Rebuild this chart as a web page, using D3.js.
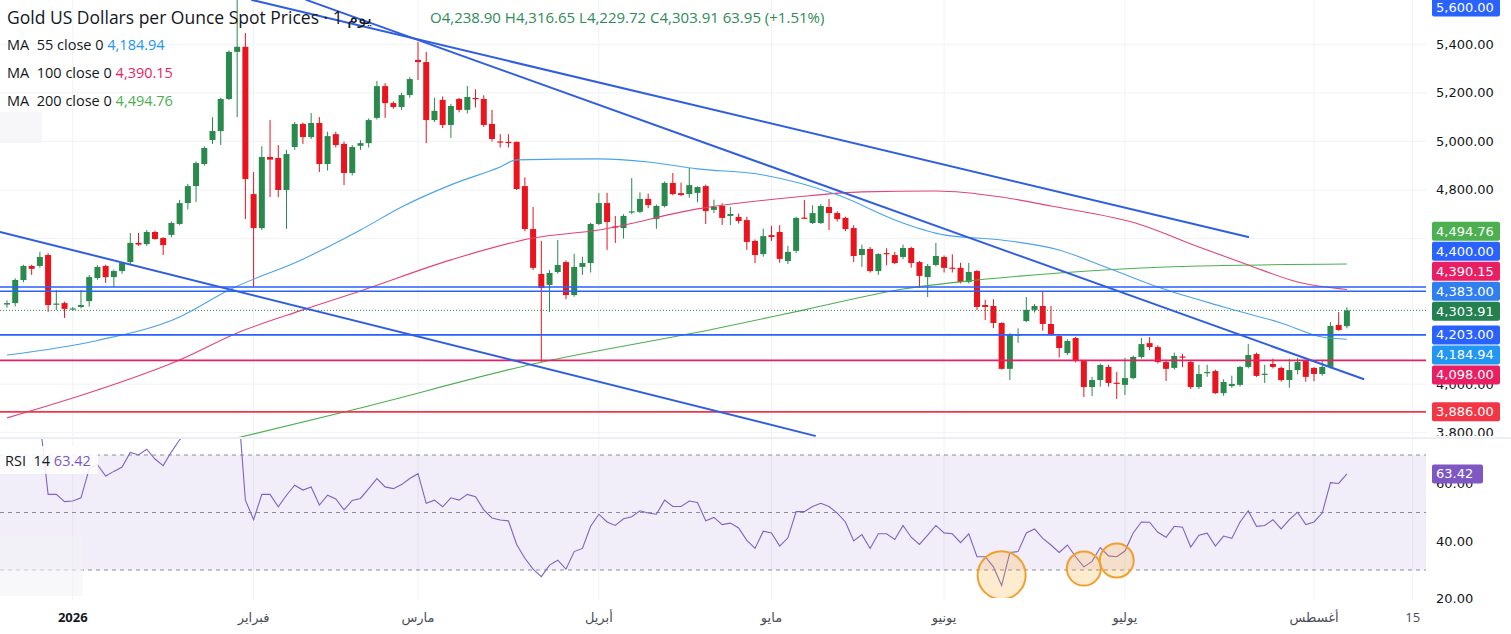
<!DOCTYPE html>
<html>
<head>
<meta charset="utf-8">
<script src="https://cdn.jsdelivr.net/npm/d3@7"></script>
<style>
  body { margin: 0; background: #fff; }
  svg { display: block; font-family: "Open Sans", "DejaVu Sans", sans-serif; }
  .axisText { font-family: "DejaVu Sans", sans-serif; }
</style>
</head>
<body>
<svg id="chart" width="1511" height="634"></svg>
<script>
// ---- data (one entry per candle) ----
const opens = [
  4328,4334,4429,4487,4487,4532,4328,4334,4310,4318,
  4342,4437,4487,4441,4466,4503,4582,4577,4627,4602,
  4615,4660,4746,4816,4907,5006,5043,5175,5369,5390,
  4783,4643,4936,4932,4800,4977,5072,5018,5076,4907,
  5030,4990,4870,4982,4993,5097,5228,5158,5142,5191,
  5336,5327,5088,5171,5068,5175,5130,5179,5175,5072,
  5000,4998,4998,4816,4639,4454,4409,4462,4503,4367,
  4483,4499,4660,4746,4650,4643,4708,4710,4763,4680,
  4734,4829,4787,4783,4788,4816,4718,4734,4693,4689,
  4676,4590,4536,4614,4627,4507,4549,4686,4664,4664,
  4730,4705,4685,4643,4532,4557,4466,4540,4532,4524,
  4561,4503,4441,4491,4524,4480,4479,4421,4466,4326,
  4322,4252,4063,4203,4260,4306,4322,4248,4198,4128,
  4190,4095,3988,4017,4071,4006,3997,4025,4112,4169,
  4153,4091,4067,4114,4091,3988,4046,4054,3963,3992,
  3997,4071,4124,4040,4083,4067,4017,4058,4095,4067,
  4042,4071,4244,4238.90];
const highs = [
  4345,4436,4492,4492,4545,4540,4388,4340,4318,4388,
  4450,4490,4492,4472,4503,4623,4623,4635,4632,4606,
  4670,4759,4825,4918,4980,5100,5180,5375,5595,5447,
  4874,4980,5088,4985,4965,5080,5078,5117,5100,5040,
  5040,5000,4985,5005,5095,5249,5240,5165,5200,5265,
  5410,5369,5180,5185,5155,5180,5228,5215,5190,5130,
  5030,5030,5000,4852,4730,4590,4470,4594,4510,4537,
  4525,4665,4788,4788,4693,4700,4849,4790,4785,4740,
  4835,4870,4830,4891,4815,4822,4760,4745,4730,4703,
  4690,4596,4641,4652,4655,4570,4690,4759,4737,4742,
  4763,4712,4690,4655,4575,4565,4540,4560,4545,4575,
  4566,4508,4495,4582,4530,4535,4500,4500,4470,4347,
  4350,4255,4210,4230,4359,4330,4380,4322,4205,4185,
  4195,4100,4030,4085,4080,4050,4108,4118,4190,4194,
  4160,4100,4130,4125,4095,4080,4080,4060,4020,4035,
  4075,4165,4130,4080,4105,4072,4105,4108,4100,4070,
  4095,4255,4297,4316.65];
const lows = [
  4315,4320,4420,4450,4480,4298,4305,4273,4302,4312,
  4320,4430,4417,4400,4455,4495,4570,4570,4595,4532,
  4605,4655,4720,4750,4900,4990,4985,5170,5100,4680,
  4400,4635,4771,4770,4640,4965,4990,5010,4874,4880,
  4975,4820,4860,4965,4975,5090,5097,5135,5130,5180,
  5253,4993,5080,5055,5014,5120,5115,5140,5060,5000,
  4975,4975,4800,4630,4470,4091,4297,4455,4350,4360,
  4450,4460,4655,4553,4582,4600,4700,4705,4725,4640,
  4728,4778,4775,4768,4750,4660,4705,4656,4655,4662,
  4553,4499,4525,4590,4500,4495,4540,4680,4660,4660,
  4635,4670,4630,4503,4483,4460,4450,4490,4495,4515,
  4480,4396,4359,4485,4460,4460,4415,4415,4305,4264,
  4231,4060,4017,4170,4255,4295,4220,4200,4110,4120,
  4090,3947,3951,3990,3990,3939,3955,4020,4105,4140,
  4085,4013,4060,4070,3980,3980,4030,3960,3952,3985,
  3990,4065,4030,4005,4065,4010,3985,4040,4010,4012,
  4035,4065,4220,4229.72];
const closes = [
  4334,4429,4487,4475,4524,4326,4332,4310,4312,4326,
  4441,4483,4441,4466,4499,4582,4575,4627,4598,4573,
  4664,4746,4816,4911,4973,5043,5175,5369,5390,4845,
  4643,4936,4925,4800,4948,5072,5018,5076,4907,5022,
  4985,4870,4977,4993,5088,5228,5158,5142,5191,5257,
  5327,5088,5126,5068,5146,5130,5183,5175,5068,5010,
  4996,4996,4804,4639,4479,4396,4458,4491,4367,4483,
  4499,4660,4746,4668,4646,4693,4712,4763,4738,4734,
  4829,4783,4779,4820,4812,4713,4730,4685,4701,4672,
  4586,4532,4610,4606,4516,4545,4685,4684,4705,4734,
  4705,4680,4639,4528,4557,4466,4536,4536,4499,4561,
  4499,4446,4487,4528,4479,4478,4421,4462,4318,4318,
  4252,4063,4203,4205,4306,4322,4248,4203,4149,4178,
  4095,3988,4017,4079,4005,4004,4025,4112,4165,4153,
  4091,4063,4116,4110,3988,4042,4050,3963,4009,4001,
  4071,4120,4034,4043,4071,4017,4058,4091,4030,4042,
  4071,4240,4223,4303.91];

const rsiValues = [
  76.5,80,83,81,82,56.3,56.3,53.8,54,55.1,
  65.2,66.6,62.7,64.3,65.8,70.9,70,72,68.6,66.3,
  71.1,75.3,78,82,84,86,88,92,92,54.3,
  47.5,56.3,56.3,52,56,59.5,57.8,58.9,52.6,56,
  54.7,50.9,54.2,54.9,58.3,61.8,58.9,58.3,59.7,61.8,
  63.5,53.2,54.3,52,55.1,54.3,56.3,55.5,50.9,48.1,
  47.4,47.1,38.9,34.1,30.3,27.7,31.7,33.4,30.3,36.4,
  37.5,45.2,49.4,46.7,45.5,47.8,48.5,50.6,49.8,49.4,
  54.3,52.1,52.1,54,53.5,47.1,48.3,45.8,46.3,44.6,
  40.3,37.5,43.5,42.9,38.3,41.2,50.3,50.3,52.1,53.2,
  52.1,49.8,46.7,40.1,42.3,37.5,42.6,42.6,40.6,45.5,
  41.4,38.9,42.1,45.5,42.9,42.6,39.5,42.6,34.6,34.6,
  31.1,24.6,36.1,36.4,42.9,44.3,41,38.7,36.1,38.7,
  34.6,31.1,33,37.8,34.9,34.6,36.6,42.9,46.7,46.6,
  43.1,41.4,45.2,44.9,38,42.1,42.8,38.3,41.8,41,
  46.7,50.6,45.2,45.5,47.5,44.3,47.5,50.1,45.8,46.7,
  49.8,60.4,60.1,63.42];

// moving averages, sampled at candle indices
const ma55Idx = [0, 11, 21, 27, 36, 43, 48, 54, 60, 62, 72, 78, 84, 92, 101, 109, 114, 121, 128, 133, 140, 148, 155, 160, 163];
const ma55Val = [4120, 4180, 4277, 4388, 4515, 4635, 4730, 4821, 4895, 4924, 4928, 4915, 4887, 4862, 4780, 4664, 4615, 4594, 4553, 4491, 4400, 4318, 4252, 4194, 4184.94];
const ma100Idx = [0, 11, 21, 28, 36, 43, 54, 64, 72, 84, 96, 104, 113, 121, 127, 138, 145, 151, 157, 163];
const ma100Val = [3861, 3976, 4100, 4211, 4306, 4384, 4512, 4602, 4635, 4722, 4771, 4792, 4796, 4771, 4734, 4656, 4565, 4491, 4421, 4390.15];
const ma200Idx = [26, 43, 64, 86, 97, 109, 118, 128, 145, 163];
const ma200Val = [3762, 3902, 4083, 4227, 4306, 4392, 4429, 4458, 4487, 4494.76];

// drawings: trend lines as [candle index, price] end points, horizontal levels
const trendLines = [
  [[-0.85, 4627], [98.3, 3787]],
  [[29.8, 5583], [151, 4606]],
  [[36.4, 5583], [165, 4021]]
];
const levelValues = [4400, 4383, 4203, 4098, 3886];
const levelColors = ["#2962ff", "#2962ff", "#2962ff", "#e91e63", "#f23645"];

// axis
const priceTicks = [3800, 4000, 4200, 4400, 4600, 4800, 5000, 5200, 5400, 5600];
const rsiTicks = [20, 40, 60];
const timeTickIdx = [8, 30, 50, 72, 93, 114, 136, 159, 171];
const timeTickLabels = ["2026", "فبراير", "مارس", "أبريل", "مايو", "يونيو", "يوليو", "أغسطس", "15"];

// price tags on the right scale
const tagValues = [5600, 4494.76, 4400, 4390.15, 4383, 4303.91, 4203, 4184.94, 4098, 3886];
const tagColors = ["#2962ff", "#4caf50", "#2962ff", "#e91e63", "#2f7ff0", "#23804f", "#2962ff", "#2196f3", "#e91e63", "#f23645"];
const tagAnchor = 4383;

// circled RSI lows
const circleIdx = [121, 131, 135];
const circleRsi = [28.2, 30.5, 33.3];
const circleR = [24, 17, 17];

const lastRsi = 63.42;

// ---- layout ----
const W = 1511,
  plotR = 1426,
  paneBot = 437,
  rsiTop = 439,
  rsiBot = 600,
  tagX = 1432,
  tagW = 68,
  tagH = 19,
  upColor = "#2a8a4e",
  downColor = "#e8141e";

const fmt = d3.format(",.2f");

var x = d3.scaleLinear().domain([0, 163]).range([7, 1346.9]);
var y = d3.scaleLinear().domain([3800, 5600]).range([432.7, -4.2]);
var yr = d3.scaleLinear().domain([30, 70]).range([570, 455]);

const svg = d3.select("#chart");

svg.append("rect").attr("width", W).attr("height", 634).attr("fill", "#fff");

const defs = svg.append("defs");
defs.append("clipPath").attr("id", "clipPrice")
  .append("rect").attr("x", 0).attr("y", 0).attr("width", plotR).attr("height", paneBot);
defs.append("clipPath").attr("id", "clipRsi")
  .append("rect").attr("x", 0).attr("y", rsiTop).attr("width", plotR).attr("height", rsiBot - rsiTop - 2);
defs.append("clipPath").attr("id", "clipAxisPrice")
  .append("rect").attr("x", plotR).attr("y", 0).attr("width", W - plotR).attr("height", paneBot - 1);

// GRID
const grid = svg.append("g").attr("id", "grid");
grid.selectAll(".vgrid").data(timeTickIdx).enter()
  .append("line")
  .attr("x1", d => x(d)).attr("x2", d => x(d))
  .attr("y1", 0).attr("y2", rsiBot)
  .attr("stroke", "#f0f2f7").attr("stroke-width", 1);
grid.selectAll(".hgrid").data(priceTicks).enter()
  .append("line")
  .attr("x1", 0).attr("x2", plotR)
  .attr("y1", d => y(d)).attr("y2", d => y(d))
  .attr("stroke", "#f0f2f7").attr("stroke-width", 1);

// PRICE PANE
const price = svg.append("g").attr("clip-path", "url(#clipPrice)");

const candles = opens.map((o, i) => ({ i: i, o: o, h: highs[i], l: lows[i], c: closes[i] }));

const candleG = price.append("g").attr("id", "candles")
  .selectAll("g").data(candles).enter().append("g");

candleG.append("line")
  .attr("x1", d => x(d.i)).attr("x2", d => x(d.i))
  .attr("y1", d => y(d.h)).attr("y2", d => y(d.l))
  .attr("stroke", d => d.c >= d.o ? upColor : downColor)
  .attr("stroke-width", 1);

candleG.append("rect")
  .attr("x", d => x(d.i) - 3)
  .attr("width", 6)
  .attr("y", d => y(Math.max(d.o, d.c)))
  .attr("height", d => Math.max(1.2, Math.abs(y(d.o) - y(d.c))))
  .attr("fill", d => d.c >= d.o ? upColor : downColor);

// moving averages
var maLine = d3.line()
  .x(d => x(d[0]))
  .y(d => y(d[1]))
  .curve(d3.curveMonotoneX);

const maSets = [
  { idx: ma200Idx, val: ma200Val, color: "#4caf50" },
  { idx: ma100Idx, val: ma100Val, color: "#e0447a" },
  { idx: ma55Idx, val: ma55Val, color: "#4aa3e8" }
];
maSets.forEach(function(m) {
  price.append("path")
    .datum(m.idx.map((d, k) => [d, m.val[k]]))
    .attr("d", maLine)
    .attr("fill", "none")
    .attr("stroke", m.color)
    .attr("stroke-width", 1.1);
});

// horizontal levels
price.selectAll(".level").data(levelValues).enter()
  .append("line")
  .attr("x1", 0).attr("x2", plotR)
  .attr("y1", d => y(d)).attr("y2", d => y(d))
  .attr("stroke", (d, k) => levelColors[k])
  .attr("stroke-width", 1.6);

// last price dotted line
price.append("line")
  .attr("x1", 0).attr("x2", plotR)
  .attr("y1", y(closes[closes.length - 1])).attr("y2", y(closes[closes.length - 1]))
  .attr("stroke", upColor)
  .attr("stroke-width", 1)
  .attr("stroke-dasharray", "1,2");

// trend lines
price.selectAll(".trend").data(trendLines).enter()
  .append("line")
  .attr("x1", d => x(d[0][0])).attr("y1", d => y(d[0][1]))
  .attr("x2", d => x(d[1][0])).attr("y2", d => y(d[1][1]))
  .attr("stroke", "#2f5fe0")
  .attr("stroke-width", 2)
  .attr("stroke-linecap", "round");

// separator between panes
svg.append("rect")
  .attr("x", 0).attr("y", paneBot).attr("width", W).attr("height", 2)
  .attr("fill", "#eceef3");

// RSI PANE
const rsiG = svg.append("g").attr("clip-path", "url(#clipRsi)");

rsiG.append("rect")
  .attr("x", 0).attr("width", plotR)
  .attr("y", yr(70)).attr("height", yr(30) - yr(70))
  .attr("fill", "#7e57c2").attr("fill-opacity", 0.1);

rsiG.selectAll(".rsiLevel").data([70, 50, 30]).enter()
  .append("line")
  .attr("x1", 0).attr("x2", plotR)
  .attr("y1", d => yr(d)).attr("y2", d => yr(d))
  .attr("stroke", "#8a8d99")
  .attr("stroke-width", 1)
  .attr("stroke-dasharray", "4,4");

// faint tooltip box left over in the pane
rsiG.append("rect")
  .attr("x", 0).attr("y", 536).attr("width", 83).attr("height", 60)
  .attr("fill", "#f3f3f6").attr("fill-opacity", 0.6);

rsiG.append("path")
  .datum(rsiValues)
  .attr("d", d3.line().x((d, i) => x(i)).y(d => yr(d)))
  .attr("fill", "none")
  .attr("stroke", "#7e63c2")
  .attr("stroke-width", 1.1);

rsiG.selectAll(".lowCircle").data(circleIdx).enter()
  .append("circle")
  .attr("cx", d => x(d))
  .attr("cy", (d, k) => yr(circleRsi[k]))
  .attr("r", (d, k) => circleR[k])
  .attr("fill", "#ffa726").attr("fill-opacity", 0.22)
  .attr("stroke", "#f0a030").attr("stroke-width", 2);

// LEGENDS
const legend = svg.append("g").attr("id", "legend");

legend.append("rect")
  .attr("x", 0).attr("y", 112).attr("width", 42).attr("height", 31)
  .attr("fill", "#f1f2f5").attr("fill-opacity", 0.6);

legend.append("text")
  .attr("x", 7).attr("y", 24)
  .attr("font-size", 17.5).attr("fill", "#131722")
  .text("Gold US Dollars per Ounce Spot Prices · 1 يوم");

const last = candles[candles.length - 1];
legend.append("text")
  .attr("x", 430).attr("y", 23)
  .attr("font-size", 15).attr("fill", "#2e8b57")
  .style("white-space", "pre")
  .text("O" + fmt(last.o) + " H" + fmt(last.h) + " L" + fmt(last.l) + " C" + fmt(last.c) + " 63.95 (+1.51%)");

const maLegend = [
  { label: "MA  55 close 0", value: ma55Val[ma55Val.length - 1], color: "#2196f3" },
  { label: "MA  100 close 0", value: ma100Val[ma100Val.length - 1], color: "#e91e63" },
  { label: "MA  200 close 0", value: ma200Val[ma200Val.length - 1], color: "#4caf50" }
];
maLegend.forEach(function(m, k) {
  var t = legend.append("text")
    .attr("x", 7).attr("y", 50 + 28 * k)
    .attr("font-size", 14.5)
    .style("white-space", "pre");
  t.append("tspan").attr("fill", "#131722").text(m.label + " ");
  t.append("tspan").attr("fill", m.color).text(fmt(m.value));
});

legend.append("rect")
  .attr("x", 0).attr("y", 446).attr("width", 98).attr("height", 28)
  .attr("fill", "#fff").attr("fill-opacity", 0.85);
var rsiLeg = legend.append("text")
  .attr("x", 5).attr("y", 466)
  .attr("font-size", 14.5)
  .style("white-space", "pre");
rsiLeg.append("tspan").attr("fill", "#131722").text("RSI  14 ");
rsiLeg.append("tspan").attr("fill", "#7e57c2").text(lastRsi.toFixed(2));

// RIGHT AXIS
const axisG = svg.append("g").attr("id", "rightAxis").attr("class", "axisText");

// tags: keep them from overlapping, pushing away from the anchor level
var tags = tagValues.map((v, k) => ({ v: v, color: tagColors[k], ty: y(v) }));
var a = tags.findIndex(t => t.v === tagAnchor);
for (var k = a - 1; k >= 0; k--) {
  tags[k].ty = Math.min(tags[k].ty, tags[k + 1].ty - 20);
}
for (var k = a + 1; k < tags.length; k++) {
  tags[k].ty = Math.max(tags[k].ty, tags[k - 1].ty + 20);
}
tags.forEach(t => { t.ty = Math.max(t.ty, 7); });

// scale labels hidden under a tag are dropped, as the platform does
var visibleTicks = priceTicks.filter(d => d < 5600 &&
  tags.every(t => Math.abs(t.ty - y(d)) > 9));

axisG.append("g").attr("clip-path", "url(#clipAxisPrice)")
  .selectAll("text").data(visibleTicks).enter()
  .append("text")
  .attr("x", 1436).attr("y", d => y(d) + 4.5)
  .attr("font-size", 13).attr("fill", "#131722")
  .text(d => fmt(d));

axisG.selectAll(".rsiTick").data(rsiTicks).enter()
  .append("text")
  .attr("x", 1436).attr("y", d => yr(d) + 4.5)
  .attr("font-size", 13).attr("fill", "#131722")
  .text(d => fmt(d));

var tagG = axisG.selectAll(".tag").data(tags).enter().append("g");
tagG.append("rect")
  .attr("x", tagX).attr("width", tagW)
  .attr("y", d => d.ty - tagH / 2).attr("height", tagH)
  .attr("rx", 2)
  .attr("fill", d => d.color);
tagG.append("text")
  .attr("x", tagX + 4).attr("y", d => d.ty + 4.5)
  .attr("font-size", 13).attr("fill", "#fff")
  .text(d => fmt(d.v));

axisG.append("rect")
  .attr("x", tagX).attr("width", 51)
  .attr("y", yr(lastRsi) - tagH / 2).attr("height", tagH)
  .attr("rx", 2)
  .attr("fill", "#7e57c2");
axisG.append("text")
  .attr("x", tagX + 4).attr("y", yr(lastRsi) + 4.5)
  .attr("font-size", 13).attr("fill", "#fff")
  .text(lastRsi.toFixed(2));

// TIME AXIS
svg.append("g").attr("id", "timeAxis")
  .selectAll("text").data(timeTickIdx).enter()
  .append("text")
  .attr("x", d => x(d)).attr("y", 622)
  .attr("text-anchor", "middle")
  .attr("font-size", 13)
  .attr("font-weight", (d, k) => k === 0 ? "bold" : "normal")
  .attr("fill", (d, k) => k === 0 ? "#131722" : "#4a4d57")
  .text((d, k) => timeTickLabels[k]);
</script>
</body>
</html>
